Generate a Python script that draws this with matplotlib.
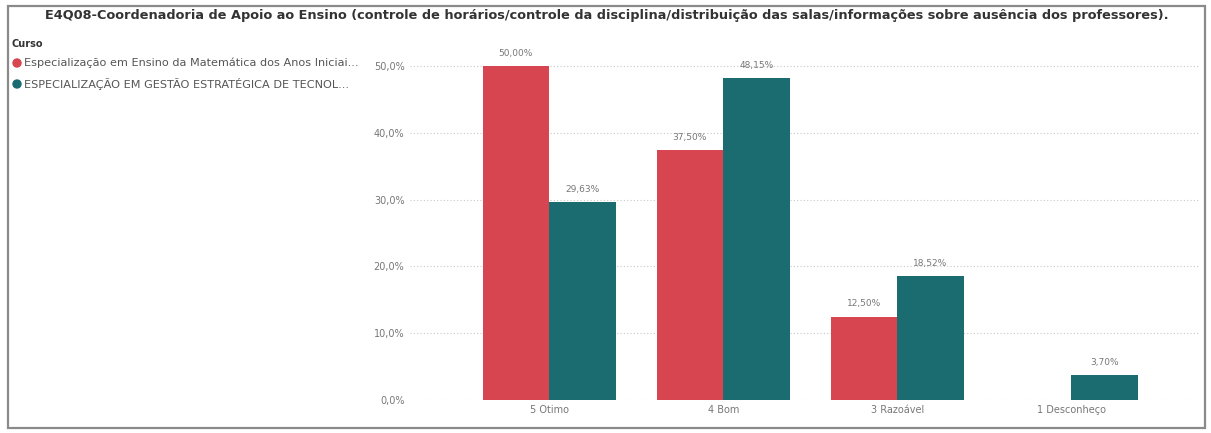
import numpy as np
import matplotlib.pyplot as plt
from matplotlib.patches import Rectangle, Ellipse

### DATA ###

categorias = ['5 Otimo', '4 Bom', '3 Razoável', '1 Desconheço']
serie_mat = [50.00, 37.50, 12.50, np.nan]      # Especialização em Ensino da Matemática...
serie_gest = [29.63, 48.15, 18.52, 3.70]       # ESPECIALIZAÇÃO EM GESTÃO ESTRATÉGICA...
nomes = ['Especialização em Ensino da Matemática dos Anos Iniciai...',
         'ESPECIALIZAÇÃO EM GESTÃO ESTRATÉGICA DE TECNOL...']
yticks = [0, 10, 20, 30, 40, 50]

titulo = ('E4Q08-Coordenadoria de Apoio ao Ensino (controle de horários/controle da '
          'disciplina/distribuição das salas/informações sobre ausência dos professores).')

cor_mat = '#D64550'
cor_gest = '#1A6C71'
cinza = '#777777'

### PLOT ###

W, H = 1211, 433
fig = plt.figure(figsize=(W / 100, H / 100), dpi=100)

# moldura do visual
fig.patches.append(Rectangle((8 / W, 5 / H), 1197 / W, 422 / H, transform=fig.transFigure,
                             fill=False, edgecolor='#8a8a8a', lw=1.6))

fig.text(607 / W, 1 - 15 / H, titulo, ha='center', va='center', fontsize=9.3,
         color='#333333', fontweight='bold')

# legenda
fig.text(12 / W, 1 - 44 / H, 'Curso', ha='left', va='center', fontsize=7,
         color='#333333', fontweight='bold')
for k, (nome, cor) in enumerate(zip(nomes, [cor_mat, cor_gest])):
    yy = 1 - (63 + 21 * k) / H
    fig.patches.append(Ellipse((17 / W, yy), 8 / W, 8 / H, transform=fig.transFigure,
                               color=cor))
    fig.text(24 / W, yy, nome, ha='left', va='center', fontsize=8.1, color='#555555')

ax = fig.add_axes([410 / W, 1 - 400 / H, 790 / W, 350 / H])

x = np.arange(len(categorias))
w = 0.383
b1 = ax.bar(x - w / 2, serie_mat, w, color=cor_mat, zorder=3)
b2 = ax.bar(x + w / 2, serie_gest, w, color=cor_gest, zorder=3)

for barras, vals in [(b1, serie_mat), (b2, serie_gest)]:
    for r, v in zip(barras, vals):
        if np.isnan(v):
            continue
        ax.text(r.get_x() + r.get_width() / 2, v + 1.2, f'{v:.2f}%'.replace('.', ','),
                ha='center', va='bottom', fontsize=6.5, color=cinza)

ax.set_xlim(-0.8, 3.74)
ax.set_ylim(0, 52.4)
ax.set_yticks(yticks)
ax.set_yticklabels([f'{t:.1f}%'.replace('.', ',') for t in yticks])
ax.set_xticks(x)
ax.set_xticklabels(categorias)
ax.tick_params(length=0, labelsize=7, labelcolor=cinza)
ax.tick_params(axis='y', pad=4)
ax.grid(axis='y', linestyle=(0, (1, 2)), color='#c8c8c8', lw=0.8, zorder=0)
for s in ax.spines.values():
    s.set_visible(False)

plt.savefig('out.png', dpi=100)
